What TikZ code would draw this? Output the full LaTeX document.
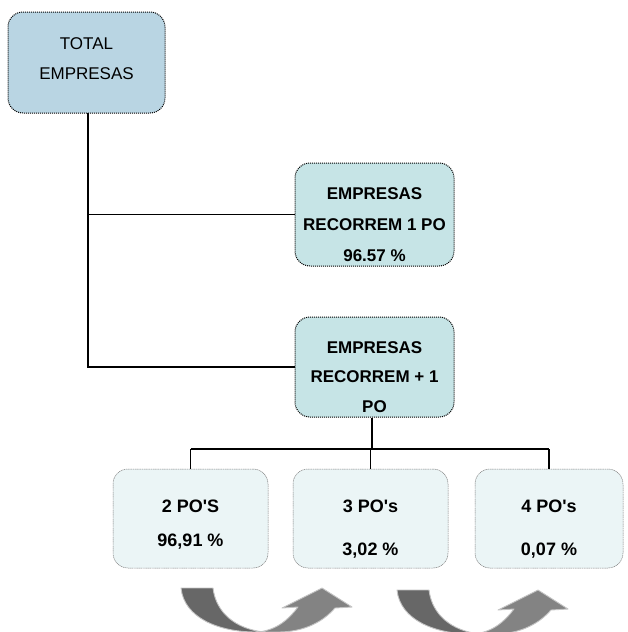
\documentclass[tikz,border=0pt]{standalone}
\usepackage{fontspec}
\setmainfont{Liberation Sans}
\newcommand{\sq}{\XeTeXglyph\XeTeXcharglyph"0027\relax}
\definecolor{totalfill}{HTML}{B9D5E3}
\definecolor{midfill}{HTML}{C6E4E6}
\definecolor{lowfill}{HTML}{EBF5F6}
\definecolor{arrdark}{HTML}{676767}
\definecolor{arrlight}{HTML}{838383}
\definecolor{arredge}{HTML}{C4C4C4}
\begin{document}
\begin{tikzpicture}[x=1pt,y=-1pt,
  topbox/.style={draw=black,line width=1pt,dash pattern=on 1pt off 1pt,rounded corners=15pt,inner sep=0pt},
  lowbox/.style={draw=gray,line width=0.5pt,dash pattern=on 1.2pt off 0.6pt,fill=lowfill,rounded corners=15pt,inner sep=0pt,minimum height=99pt},
  txt/.style={align=center,inner sep=0pt},
  conn/.style={line width=1.8pt,black},
  darkpart/.style={fill=arrdark,draw=arredge,line width=0.9pt,line join=round},
  lightpart/.style={fill=arrlight,draw=arredge,line width=0.9pt,line join=round}]
\useasboundingbox (0,0) rectangle (627,632);
\clip (0,0) rectangle (627,632);

% boxes
\node[topbox,fill=totalfill,minimum width=157pt,minimum height=101pt] (total) at (86.5,62.5) {};
\node[txt,font=\fontsize{17}{30}\selectfont] (ttotal) at (86.5,59) {TOTAL\\EMPRESAS};

\node[topbox,fill=midfill,minimum width=159pt,minimum height=103pt] (one) at (374.5,214.5) {};
\node[txt,font=\fontsize{17}{31}\selectfont\bfseries] (tone) at (374.5,225) {EMPRESAS\\RECORREM 1 PO\\96.57 \%};

\node[topbox,fill=midfill,minimum width=159pt,minimum height=100pt] (more) at (374.5,367) {};
\node[txt,font=\fontsize{17}{29.5}\selectfont\bfseries] (tmore) at (374.5,377) {EMPRESAS\\RECORREM + 1\\PO};

\node[lowbox,minimum width=155pt] (b1) at (190.5,518.5) {};
\node[lowbox,minimum width=155pt] (b2) at (370.5,518.5) {};
\node[lowbox,minimum width=148pt] (b3) at (549,518.5) {};
\node[txt,font=\fontsize{18}{34}\selectfont\bfseries] (tb1) at (190.5,525) {2 PO\sq S\\96,91 \%};
\node[txt,font=\fontsize{18}{43}\selectfont\bfseries] (tb2) at (370.5,529.5) {3 PO\sq s\\3,02 \%};
\node[txt,font=\fontsize{18}{43}\selectfont\bfseries] (tb3) at (549,529.5) {4 PO\sq s\\0,07 \%};

% connectors
\coordinate (trunk) at (88,113);
\draw[conn] (trunk) -- (trunk |- more.west) -- (more.west);
\draw[conn] (trunk |- one.west) -- (one.west);
\coordinate (bus) at (372,449);
\draw[conn] (bus |- more.south) -- (bus);
\draw[conn] (b1.north |- bus) -- (b3.north |- bus);
\draw[conn] (b1.north |- bus) -- (b1.north);
\draw[conn] (b2.north |- bus) -- (b2.north);
\draw[conn] (b3.north |- bus) -- (b3.north);

% curved arrows
\foreach \dx/\dy in {181/588, 397/590}{
  \begin{scope}[shift={(\dx,\dy)}]
    \draw[darkpart] (0,0) -- (32,0) .. controls (35,25) and (55,41) .. (83,44)
      -- (75,44) .. controls (38,44) and (3,30) .. (0,0) -- cycle;
    \draw[lightpart] (77,44) .. controls (96,42) and (108,31) .. (117,19)
      -- (101,20) -- (141,0) -- (171,19) -- (154,20)
      .. controls (140,36) and (120,44) .. (97,44) -- cycle;
  \end{scope}
}
\end{tikzpicture}
\end{document}
